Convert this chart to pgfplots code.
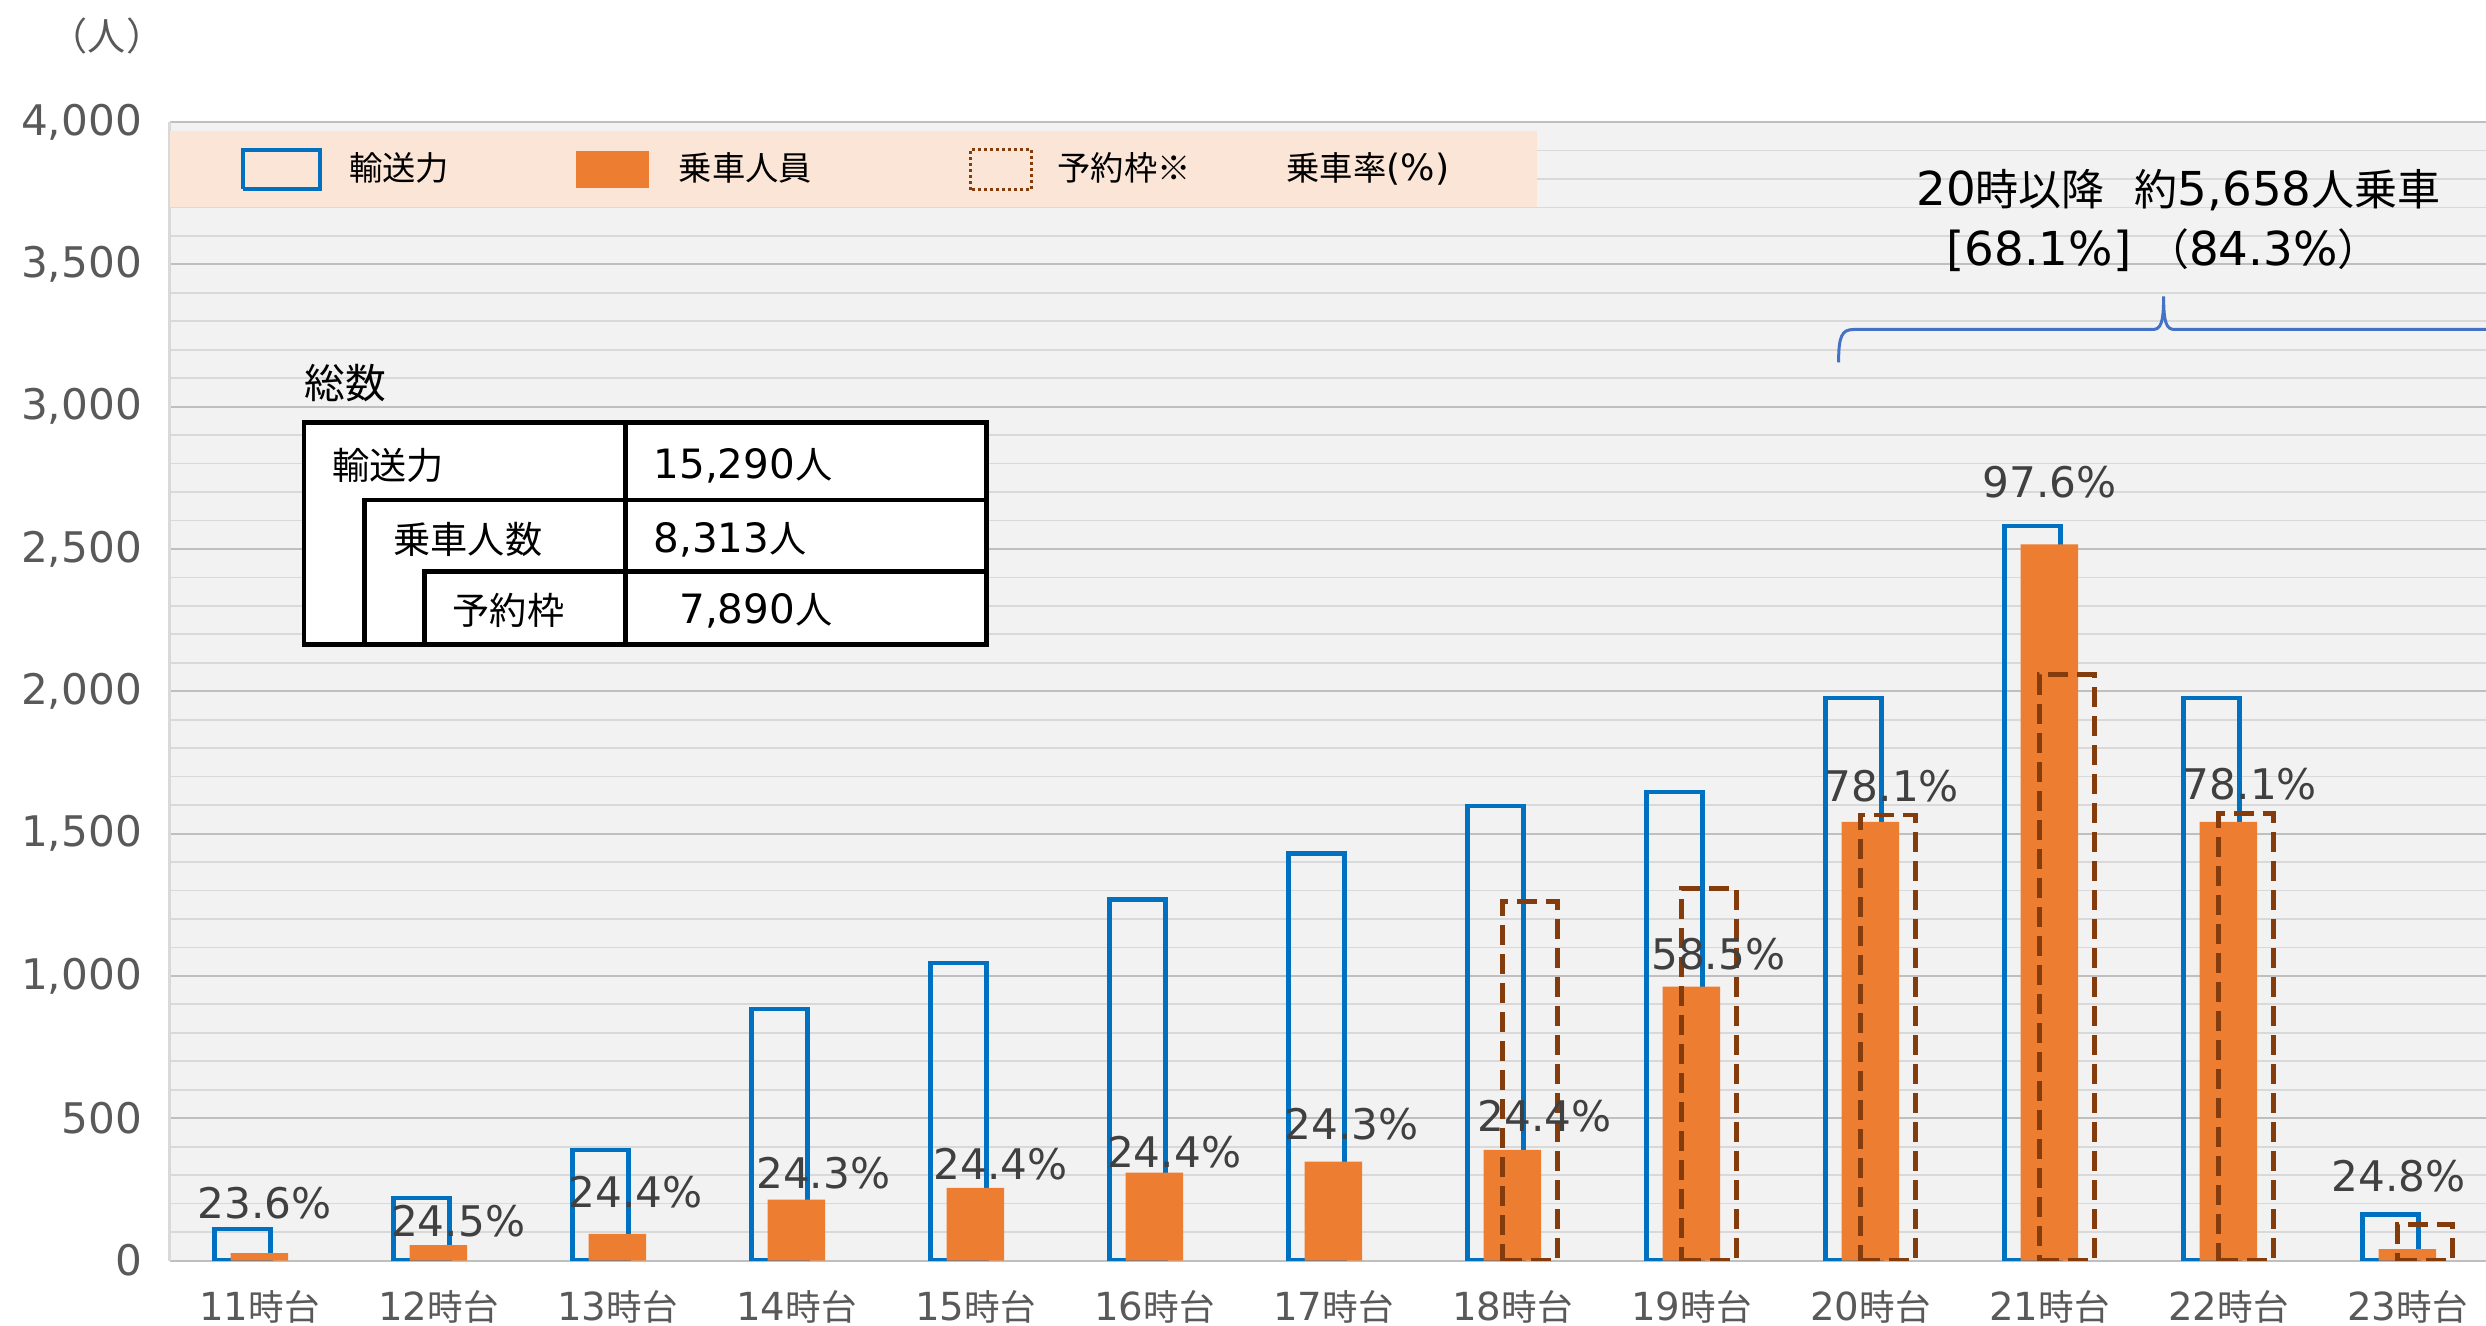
\documentclass[border=0pt]{standalone}
\usepackage{fontspec}
\usepackage{pgfplots}
\pgfplotsset{compat=1.18}
\setmainfont{DejaVu Sans}
\newfontfamily\jp[Scale=0.92]{Noto Sans CJK JP}

\definecolor{cblue}{HTML}{0070C0}
\definecolor{corange}{HTML}{ED7D31}
\definecolor{cbrown}{HTML}{843C0C}
\definecolor{legbg}{HTML}{FBE5D6}
\definecolor{plotbg}{HTML}{F2F2F2}
\definecolor{gmajor}{HTML}{BFBFBF}
\definecolor{gminor}{HTML}{D9D9D9}
\definecolor{lblgray}{HTML}{404040}
\definecolor{tickgray}{HTML}{595959}
\definecolor{bracecol}{HTML}{4472C4}

\begin{document}
\begin{tikzpicture}
\begin{axis}[
  at={(0,0)}, anchor=south west,
  scale only axis,
  width=231.64mm, height=113.85mm,
  xmin=-0.502, xmax=12.439,
  ymin=0, ymax=4000,
  ytick={0,500,...,4000},
  minor y tick num=4,
  scaled y ticks=false,
  ymajorgrids, yminorgrids,
  major grid style={draw=gmajor, line width=0.2mm},
  minor grid style={draw=gminor, line width=0.17mm},
  axis background/.style={fill=plotbg},
  axis x line*=bottom, axis y line*=left,
  x axis line style={draw=none},
  y axis line style={draw=gminor, line width=0.25mm, -},
  major tick length=0pt, minor tick length=0pt,
  xtick={0,...,12},
  xticklabels={11{\jp 時台},12{\jp 時台},13{\jp 時台},14{\jp 時台},15{\jp 時台},16{\jp 時台},17{\jp 時台},18{\jp 時台},19{\jp 時台},20{\jp 時台},21{\jp 時台},22{\jp 時台},23{\jp 時台}},
  xticklabel style={font=\fontsize{11}{13}\selectfont, text=tickgray, anchor=center, inner sep=0pt, yshift=-4.6mm},
  yticklabel style={font=\fontsize{12}{14}\selectfont, text=tickgray, anchor=east, inner sep=0pt, xshift=-2.7mm},
  /pgf/number format/assume math mode=true,
  /pgf/number format/1000 sep={,},
  legend columns=4,
  legend cell align=left,
  legend style={at={(rel axis cs:0,1)}, anchor=north west, yshift=-0.88mm,
    fill=legbg, draw=none, inner sep=0pt, column sep=0pt, row sep=0pt,
    font=\fontsize{10.3}{12}\selectfont,
    nodes={inner sep=0pt, text depth=0.15em}},
]

% 輸送力
\addplot[ybar, bar width=0.312, bar shift=-0.095, draw=cblue, fill=none, line width=0.45mm,
  legend image code/.code={
    \draw[cblue, line width=0.42mm, dash pattern=on 1mm off 0mm] (0mm,-1.95mm) rectangle (7.65mm,1.95mm);
    \path[draw=none, fill=none] (-7.28mm,-3.8mm) rectangle (10.62mm,3.8mm);}]
  coordinates {(0,110) (1,220) (2,388) (3,884) (4,1045) (5,1268) (6,1430)
               (7,1596) (8,1646) (9,1976) (10,2580) (11,1976) (12,162)};
\addlegendentry{{\jp 輸送力}\kern12.7mm}

% 乗車人員
\addplot[ybar, bar width=0.321, bar shift=0, fill=corange, draw=none,
  legend image code/.code={
    \fill[corange] (0mm,-1.83mm) rectangle (7.3mm,1.83mm);
    \path[draw=none, fill=none] (0mm,-3.8mm) rectangle (10.25mm,3.8mm);}]
  coordinates {(0,26) (1,54) (2,94) (3,214) (4,255) (5,309) (6,347)
               (7,389) (8,962) (9,1541) (10,2516) (11,1541) (12,40)};
\addlegendentry{{\jp 乗車人員}\kern15.7mm}

% 予約枠
\addplot[ybar, bar width=0.308, bar shift=0.098, draw=cbrown, fill=none, line width=0.48mm,
  dash pattern=on 2mm off 0.9mm,
  legend image code/.code={
    \draw[cbrown, line width=0.3mm, dash pattern=on 0.3mm off 0.3mm] (0mm,-2mm) rectangle (6.15mm,2mm);
    \path[draw=none, fill=none] (0mm,-3.8mm) rectangle (8.7mm,3.8mm);}]
  coordinates {(7,1262) (8,1307) (9,1565) (10,2058) (11,1570) (12,126)};
\addlegendentry{{\jp 予約枠※}\kern9.6mm}

% 乗車率 labels
\addplot[draw=none, mark=none, nodes near coords, point meta=explicit symbolic,
  nodes near coords style={anchor=center, font=\fontsize{12}{14}\selectfont, text=lblgray, inner sep=0pt},
  legend image code/.code={\path[draw=none, fill=none] (0mm,-1mm) rectangle (0mm,1mm);}]
  coordinates {(0.03,201)[23.6\%] (1.11,137)[24.5\%] (2.10,240)[24.4\%] (3.15,306)[24.3\%]
               (4.14,340)[24.4\%] (5.11,379)[24.4\%] (6.10,479)[24.3\%] (7.18,507)[24.4\%]
               (8.15,1075)[58.5\%] (9.12,1665)[78.1\%] (10.0,2735)[97.6\%] (11.12,1675)[78.1\%]
               (11.95,295)[24.8\%]};
\addlegendentry{{\jp 乗車率}(\%)\kern8.75mm}
\end{axis}

\begin{scope}[x=1mm, y=1mm]
  % 総数 table
  \node[anchor=west, inner sep=0pt, font=\fontsize{12.6}{14}\selectfont] at (13.44,87.73) {\jp 総数};
  \fill[white] (13.44,61.6) rectangle (81.71,83.8);
  \draw[line width=0.45mm] (13.44,61.6) rectangle (81.71,83.8);
  \draw[line width=0.45mm] (45.59,61.6) -- (45.59,83.8);
  \draw[line width=0.45mm] (19.47,61.6) -- (19.47,76.03) -- (81.71,76.03);
  \draw[line width=0.45mm] (25.49,61.6) -- (25.49,68.9) -- (81.71,68.9);
  \begin{scope}[every node/.style={anchor=west, inner sep=0pt, font=\fontsize{11.5}{13}\selectfont}]
    \node at (16.2,79.5) {\jp 輸送力};
    \node at (48.34,79.5) {15,290{\jp 人}};
    \node at (22.33,72.1) {\jp 乗車人数};
    \node at (48.34,72.1) {8,313{\jp 人}};
    \node at (28.24,65.0) {\jp 予約枠};
    \node at (50.9,65.0) {7,890{\jp 人}};
  \end{scope}

  % unit label
  \node[inner sep=0pt, font=\fontsize{11.8}{13}\selectfont, text=tickgray] at (-6.26,122.4) {\jp （人）};

  % brace and annotation for 20時以降
  \draw[bracecol, line width=0.3mm]
    (166.9,89.8) .. controls (166.9,92.4) and (167.2,93.1) .. (168.4,93.1)
    -- (198.3,93.1) .. controls (199.1,93.1) and (199.4,93.7) .. (199.4,96.4)
    .. controls (199.4,93.7) and (199.7,93.1) .. (200.5,93.1) -- (240,93.1);
  \node[anchor=west, inner sep=0pt, font=\fontsize{13.3}{16}\selectfont] at (174.6,107.0)
    {20{\jp 時以降}\hspace{3mm}{\jp 約}5,658{\jp 人乗車}};
  \node[anchor=west, inner sep=0pt, font=\fontsize{13.3}{16}\selectfont] at (177.6,101.0)
    {[68.1\%] {\jp （}84.3\%{\jp ）}};
\end{scope}

\pgfresetboundingbox
\path[use as bounding box] (-16.96mm,-6.45mm) rectangle (231.64mm,126.05mm);
\end{tikzpicture}
\end{document}
